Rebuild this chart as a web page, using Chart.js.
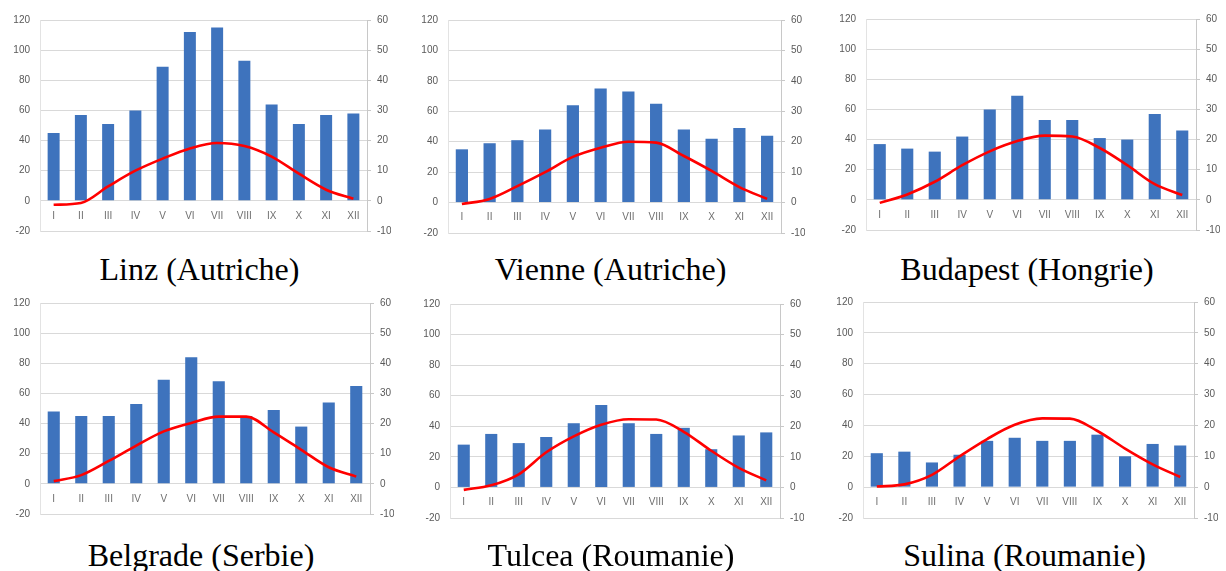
<!DOCTYPE html>
<html lang="fr">
<head>
<meta charset="utf-8">
<title>Diagrammes climatiques</title>
<script src="https://cdn.jsdelivr.net/npm/chart.js@4.4.1/dist/chart.umd.min.js"></script>
<style>
  html, body { margin: 0; padding: 0; background: #fff; overflow: hidden; }
  body { width: 1226px; height: 571px; position: relative; }
  .panel { position: absolute; }
  .titre {
    position: absolute;
    width: 400px;
    text-align: center;
    font-family: 'Liberation Serif', 'Times New Roman', serif;
    font-size: 32px;
    line-height: 1.15;
    color: #000;
    white-space: nowrap;
  }
</style>
</head>
<body>
<script>
// Mois (axe des catégories)
const MOIS = ['I', 'II', 'III', 'IV', 'V', 'VI', 'VII', 'VIII', 'IX', 'X', 'XI', 'XII'];

// Précipitations (mm, axe gauche) et températures (°C, axe droit)
const precipLinz = [45, 57, 51, 60, 89, 112, 115, 93, 64, 51, 57, 58];
const tempLinz = [-1.3, -0.7, 4.8, 10, 14, 17.4, 19.2, 18.2, 14.7, 9, 3.7, 0.7];

const precipVienne = [35, 39, 41, 48, 64, 75, 73, 65, 48, 42, 49, 44];
const tempVienne = [-0.5, 1.2, 5.4, 10, 15, 18, 20, 19.7, 15.3, 10.4, 5.1, 1.2];

const precipBudapest = [37, 34, 32, 42, 60, 69, 53, 53, 41, 40, 57, 46];
const tempBudapest = [-1, 1.8, 6, 11.5, 16.1, 19.5, 21.3, 21, 17.2, 11.5, 5.2, 1.6];

const precipBelgrade = [48, 45, 45, 53, 69, 84, 68, 45, 49, 38, 54, 65];
const tempBelgrade = [0.9, 2.9, 7.6, 12.7, 17.4, 20.2, 22.3, 22.3, 17.1, 11.3, 5.5, 2.4];

const precipTulcea = [28, 35, 29, 33, 42, 54, 42, 35, 39, 25, 34, 36];
const tempTulcea = [-0.8, 0.7, 4.3, 11.5, 16.7, 20.5, 22.3, 22.2, 18.2, 12, 6.4, 2.3];

const precipSulina = [22, 23, 16, 21, 30, 32, 30, 30, 34, 20, 28, 27];
const tempSulina = [0.2, 0.9, 4, 10, 15.6, 20.2, 22.3, 22.2, 18.2, 12.5, 7.4, 3.3];

// Graduations des deux axes
const ECHELLE_PRECIP = { min: -20, max: 120, pas: 20 };
const ECHELLE_TEMP = { min: -10, max: 60, pas: 10 };

const stations = [
    { nom: 'Linz (Autriche)', precip: precipLinz, temp: tempLinz },
    { nom: 'Vienne (Autriche)', precip: precipVienne, temp: tempVienne },
    { nom: 'Budapest (Hongrie)', precip: precipBudapest, temp: tempBudapest },
    { nom: 'Belgrade (Serbie)', precip: precipBelgrade, temp: tempBelgrade },
    { nom: 'Tulcea (Roumanie)', precip: precipTulcea, temp: tempTulcea },
    { nom: 'Sulina (Roumanie)', precip: precipSulina, temp: tempSulina }
];

// Zone de tracé de chaque panneau : [gauche, haut, droite, bas] en px
const zones = [
    [40, 16, 367, 239],
    [448, 16, 781, 241],
    [866, 15, 1196, 238],
    [40, 299, 370, 522],
    [450, 300, 780, 526],
    [863, 298, 1194, 526]
];
// Position verticale (haut du bloc) des titres par rangée
const titreHaut = [251, 251, 251, 537, 537, 537];

const PAD = { left: 14, right: 16, top: 12, bottom: 8 };
const AXE_G = 27;
const AXE_D = 24;

Chart.defaults.font.family = "'Liberation Sans', Arial, sans-serif";
Chart.defaults.color = '#595959';

stations.forEach((st, i) => {
    const [pl, pt, pr, pb] = zones[i];

    const panel = document.createElement('div');
    panel.className = 'panel';
    const w = (pr - pl) + PAD.left + AXE_G + AXE_D + PAD.right;
    const h = (pb - pt) + PAD.top + PAD.bottom;
    panel.style.left = (pl - PAD.left - AXE_G) + 'px';
    panel.style.top = (pt - PAD.top) + 'px';
    panel.style.width = w + 'px';
    panel.style.height = h + 'px';
    const canvas = document.createElement('canvas');
    panel.appendChild(canvas);
    document.body.appendChild(panel);

    const titre = document.createElement('div');
    titre.className = 'titre';
    titre.textContent = st.nom;
    titre.style.left = ((pl + pr) / 2 - 4 - 200) + 'px';
    titre.style.top = titreHaut[i] + 'px';
    document.body.appendChild(titre);

    new Chart(canvas.getContext('2d'), {
        type: 'bar',
        data: {
            labels: MOIS,
            datasets: [
                {
                    type: 'line',
                    label: 'Température',
                    data: st.temp,
                    yAxisID: 'yT',
                    borderColor: '#FF0000',
                    borderWidth: 2.6,
                    pointRadius: 0,
                    cubicInterpolationMode: 'monotone',
                    fill: false,
                    order: 1
                },
                {
                    type: 'bar',
                    label: 'Précipitations',
                    data: st.precip,
                    yAxisID: 'yP',
                    backgroundColor: '#3E73BD',
                    categoryPercentage: 1,
                    barPercentage: 0.44,
                    order: 2
                }
            ]
        },
        options: {
            responsive: true,
            maintainAspectRatio: false,
            animation: false,
            layout: { padding: PAD },
            plugins: {
                legend: { display: false },
                tooltip: { enabled: false }
            },
            scales: {
                x: {
                    position: { yP: 0 },
                    grid: { display: false, drawTicks: false },
                    border: { display: false },
                    ticks: { padding: 9, font: { size: 10 }, color: '#6f6f6f', maxRotation: 0, autoSkip: false }
                },
                yP: {
                    position: 'left',
                    min: ECHELLE_PRECIP.min,
                    max: ECHELLE_PRECIP.max,
                    afterFit: (s) => { s.width = AXE_G; },
                    ticks: { stepSize: ECHELLE_PRECIP.pas, padding: 10, font: { size: 10 } },
                    grid: { color: '#D9D9D9', drawTicks: false },
                    border: { display: true, color: '#E3E3E3' }
                },
                yT: {
                    position: 'right',
                    min: ECHELLE_TEMP.min,
                    max: ECHELLE_TEMP.max,
                    afterFit: (s) => { s.width = AXE_D; },
                    ticks: { stepSize: ECHELLE_TEMP.pas, padding: 6, font: { size: 10 } },
                    grid: { drawOnChartArea: false, drawTicks: true, tickLength: 4, color: '#C8C8C8' },
                    border: { display: true, color: '#C8C8C8' }
                }
            }
        }
    });
});
</script>
</body>
</html>
